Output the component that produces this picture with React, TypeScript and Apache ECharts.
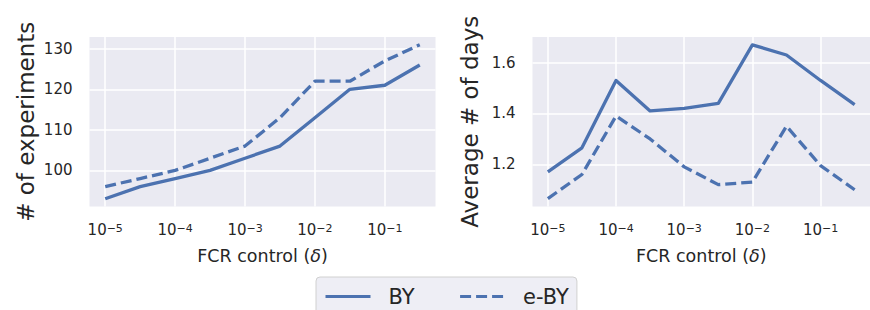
import React, { useEffect, useRef } from "react";
import * as echarts from "echarts";

// FCR control values (delta), one per data point
const deltas = [1e-5, 3.162e-5, 1e-4, 3.162e-4, 1e-3, 3.162e-3, 1e-2, 3.162e-2, 1e-1, 3.162e-1];

// Left panel: # of experiments
const expBY = [93, 96, 98, 100, 103, 106, 113, 120, 121, 126];
const expEBY = [96, 98, 100, 103, 106, 113, 122, 122, 127, 131];

// Right panel: Average # of days
const daysBY = [1.17, 1.265, 1.53, 1.41, 1.42, 1.44, 1.67, 1.63, 1.53, 1.435];
const daysEBY = [1.065, 1.16, 1.39, 1.3, 1.19, 1.12, 1.13, 1.35, 1.195, 1.1];

// Tick labels
const xTickExponents = [-5, -4, -3, -2, -1];
const leftYTicks = [100, 110, 120, 130];
const rightYTicks = [1.2, 1.4, 1.6];

const seriesNames = ["BY", "e-BY"];

const FONT = "DejaVu Sans";
const TEXT = "#262626";
const BLUE = "#4C72B0";

export default function App() {
  const ref = useRef<HTMLDivElement>(null);

  useEffect(() => {
    if (!ref.current) return;
    const chart = echarts.init(ref.current, undefined, { renderer: "svg" });

    const toPts = (vals: number[]) => deltas.map((d, i) => [Math.log10(d), vals[i]]);

    const xAxisBase = (gridIndex: number) => ({
      type: "value",
      gridIndex,
      min: -5.225,
      max: -0.275,
      name: "FCR control ({i|δ})",
      nameLocation: "middle",
      nameGap: 40,
      nameTextStyle: {
        fontFamily: FONT,
        fontSize: 17.5,
        color: TEXT,
        rich: { i: { fontFamily: FONT, fontSize: 17.5, fontStyle: "italic", color: TEXT } },
      },
      axisLine: { show: false },
      axisTick: { show: false, customValues: xTickExponents },
      splitLine: { show: true, lineStyle: { color: "#ffffff", width: 1.5 } },
      axisLabel: {
        customValues: xTickExponents,
        margin: 16,
        color: TEXT,
        fontFamily: FONT,
        formatter: (v: number) => `{b|10}{s|−${Math.abs(Math.round(v))}}`,
        rich: {
          b: { fontFamily: FONT, fontSize: 15, lineHeight: 15, verticalAlign: "bottom", color: TEXT },
          s: {
            fontFamily: FONT,
            fontSize: 11,
            lineHeight: 11,
            verticalAlign: "top",
            padding: [0, 0, 6, 0],
            color: TEXT,
          },
        },
      },
    });

    const yAxisBase = (
      gridIndex: number,
      min: number,
      max: number,
      ticks: number[],
      name: string,
      nameGap: number,
      digits: number
    ) => ({
      type: "value",
      gridIndex,
      min,
      max,
      name,
      nameLocation: "middle",
      nameGap,
      nameTextStyle: { fontFamily: FONT, fontSize: 23, color: TEXT },
      axisLine: { show: false },
      axisTick: { show: false, customValues: ticks },
      splitLine: { show: true, lineStyle: { color: "#ffffff", width: 1.5 } },
      axisLabel: {
        customValues: ticks,
        margin: 17,
        color: TEXT,
        fontFamily: FONT,
        fontSize: 15,
        formatter: (v: number) => v.toFixed(digits),
      },
    });

    const lineSeries = (name: string, idx: number, vals: number[], dashed: boolean) => ({
      type: "line",
      name,
      xAxisIndex: idx,
      yAxisIndex: idx,
      data: toPts(vals),
      symbol: "none",
      showSymbol: false,
      lineStyle: {
        color: BLUE,
        width: 3.3,
        type: dashed ? [11, 5] : "solid",
        join: "round",
        cap: "butt",
      },
      itemStyle: { color: BLUE },
      emphasis: { disabled: true },
    });

    chart.setOption({
      animation: false,
      backgroundColor: "#ffffff",
      textStyle: { fontFamily: FONT },
      grid: [
        { left: 89.5, top: 37, width: 346, height: 169.5, show: true, backgroundColor: "#EAEAF2", borderWidth: 0 },
        { left: 532.5, top: 37, width: 346.5, height: 169.5, show: true, backgroundColor: "#EAEAF2", borderWidth: 0 },
      ],
      xAxis: [xAxisBase(0), xAxisBase(1)],
      yAxis: [
        yAxisBase(0, 91.1, 132.9, leftYTicks, "# of experiments", 52, 0),
        yAxisBase(1, 1.034, 1.701, rightYTicks, "Average # of days", 51, 1),
      ],
      legend: {
        data: seriesNames,
        left: 316,
        top: 277,
        orient: "horizontal",
        itemWidth: 45,
        itemHeight: 20,
        itemGap: 44,
        padding: [9, 8, 9, 8],
        backgroundColor: "rgba(234,234,242,0.8)",
        borderColor: "#D0D0D0",
        borderWidth: 1,
        borderRadius: 4,
        lineStyle: { width: 3 },
        itemStyle: { color: "rgba(0,0,0,0)", borderWidth: 0, opacity: 0 },
        textStyle: { fontFamily: FONT, fontSize: 21, color: TEXT, padding: [0, 0, 0, 13] },
        selectedMode: false,
      },
      series: [
        lineSeries(seriesNames[0], 0, expBY, false),
        lineSeries(seriesNames[1], 0, expEBY, true),
        lineSeries(seriesNames[0], 1, daysBY, false),
        lineSeries(seriesNames[1], 1, daysEBY, true),
      ],
    });

    return () => chart.dispose();
  }, []);

  return (
    <div
      ref={ref}
      style={{ position: "fixed", left: 0, top: 0, width: 870, height: 310 }}
    />
  );
}
